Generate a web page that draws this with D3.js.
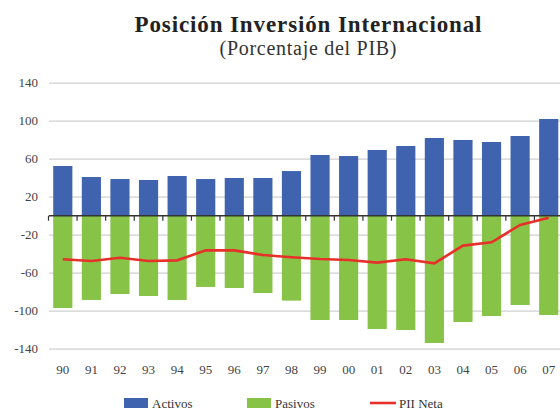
<!DOCTYPE html>
<html><head><meta charset="utf-8">
<script src="https://cdn.jsdelivr.net/npm/d3@7"></script>
<style>body{margin:0;background:#fff}svg{display:block}</style>
</head><body>
<script>
const years = ["90","91","92","93","94","95","96","97","98","99","00","01","02","03","04","05","06","07"];
const activos = [52.3,40.7,38.6,37.6,41.8,38.6,39.7,39.7,47,63.9,62.8,69.2,73.4,81.8,79.7,77.6,83.9,101.8];
const pasivos = [-97.2,-88.7,-82.4,-84.5,-88.7,-75,-76.1,-81.4,-89.4,-109.8,-109.8,-119.3,-120.3,-134,-111.9,-105.6,-94,-104.5];
const neta = [-45.9,-47.7,-44.2,-47.7,-47,-36.5,-36.5,-41.4,-43.8,-45.6,-46.6,-49.4,-45.9,-50.1,-31.5,-28,-9.8,-2.1];
const yTicks = [140,100,60,20,-20,-60,-100,-140];
const legendItems = ["Activos","Pasivos","PII Neta"];

const W=560,H=411;
const svg=d3.select("body").append("svg").attr("width",W).attr("height",H);
const x=d3.scaleBand().domain(years).range([48.5,563]).paddingInner(0.33).paddingOuter(0.165);
const y=d3.scaleLinear().domain([-140,140]).range([348.7,82.7]);
const serif="Liberation Serif";

// title
svg.append("text").attr("x",308).attr("y",32).attr("text-anchor","middle")
  .attr("font-family",serif).attr("font-weight","bold").attr("font-size",23).attr("fill","#222")
  .attr("textLength",347).attr("lengthAdjust","spacing")
  .text("Posición Inversión Internacional");
svg.append("text").attr("x",308).attr("y",55).attr("text-anchor","middle")
  .attr("font-family",serif).attr("font-size",20).attr("fill","#333")
  .attr("textLength",177).attr("lengthAdjust","spacing")
  .text("(Porcentaje del PIB)");

// grid
const yAxis=d3.axisLeft(y).tickValues(yTicks).tickSize(-(W-49)).tickPadding(11).tickFormat(d=>d<0?"-"+Math.abs(d):String(d));
const gy=svg.append("g").attr("transform","translate(49,0)").call(yAxis);
gy.attr("font-family",serif).attr("font-size",13);
gy.select(".domain").remove();
gy.selectAll(".tick line").attr("stroke","#d0d0d0").attr("stroke-width",1.3);
gy.selectAll(".tick text").attr("fill","#444");

// bars
svg.append("g").selectAll("rect").data(years).join("rect")
  .attr("x",d=>x(d)).attr("width",x.bandwidth())
  .attr("y",(d,i)=>y(activos[i])).attr("height",(d,i)=>y(0)-y(activos[i]))
  .attr("fill","#3F63AF");
svg.append("g").selectAll("rect").data(years).join("rect")
  .attr("x",d=>x(d)).attr("width",x.bandwidth())
  .attr("y",y(0)).attr("height",(d,i)=>y(pasivos[i])-y(0))
  .attr("fill","#87C346");

// x axis at 0
const step=x.step();
const xb=years.map(d=>x(d)-(step-x.bandwidth())/2);
const gx=svg.append("g");
gx.append("line").attr("x1",49).attr("x2",W).attr("y1",y(0)).attr("y2",y(0)).attr("stroke","#333").attr("stroke-width",1.5);
gx.selectAll("line.t").data(xb).join("line").attr("class","t")
  .attr("x1",d=>d).attr("x2",d=>d).attr("y1",y(0)).attr("y2",y(0)+5).attr("stroke","#333").attr("stroke-width",1.2);
gx.selectAll("text").data(years).join("text")
  .attr("x",d=>x(d)+x.bandwidth()/2).attr("y",374).attr("text-anchor","middle")
  .attr("font-family",serif).attr("font-size",13).attr("fill","#444").text(d=>d);

// line
const line=d3.line().x((d,i)=>x(years[i])+x.bandwidth()/2).y(d=>y(d));
svg.append("path").datum(neta).attr("d",line).attr("fill","none").attr("stroke","#E8302A").attr("stroke-width",2.6);

// legend
const lg=svg.append("g");
const lx=[124,247,370], tx=[152,275,399];
lg.append("rect").attr("x",lx[0]).attr("y",398).attr("width",24).attr("height",10).attr("fill","#3F63AF");
lg.append("rect").attr("x",lx[1]).attr("y",398).attr("width",24).attr("height",10).attr("fill","#87C346");
lg.append("line").attr("x1",lx[2]).attr("x2",lx[2]+26).attr("y1",403).attr("y2",403).attr("stroke","#E8302A").attr("stroke-width",2.6);
lg.selectAll("text").data(legendItems).join("text")
  .attr("x",(d,i)=>tx[i]).attr("y",408).attr("font-family",serif).attr("font-size",13).attr("fill","#333").text(d=>d);
</script>
</body></html>
